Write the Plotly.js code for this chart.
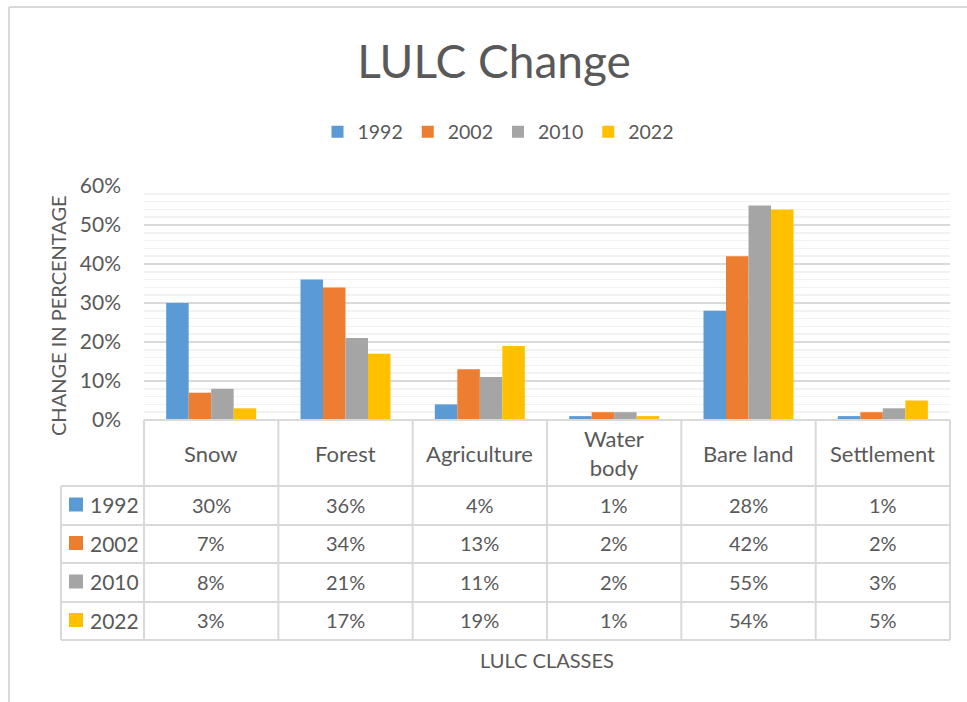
<!DOCTYPE html>
<html>
<head>
<meta charset="utf-8">
<script src="https://cdn.plot.ly/plotly-3.0.1.min.js"></script>
<style>html,body{margin:0;padding:0;background:#fff;}#chart{width:967px;height:702px;}</style>
</head>
<body>
<div id="chart"></div>
<script>
// ---- data ----
const categories = ['Snow', 'Forest', 'Agriculture', 'Water body', 'Bare land', 'Settlement'];
const headerLabels = ['Snow', 'Forest', 'Agriculture', 'Water<br>body', 'Bare land', 'Settlement'];
const years = ['1992', '2002', '2010', '2022'];
const v1992 = [0.30, 0.36, 0.04, 0.01, 0.28, 0.01];
const v2002 = [0.07, 0.34, 0.13, 0.02, 0.42, 0.02];
const v2010 = [0.08, 0.21, 0.11, 0.02, 0.55, 0.03];
const v2022 = [0.03, 0.17, 0.19, 0.01, 0.54, 0.05];
const seriesValues = [v1992, v2002, v2010, v2022];
const colors = ['#5B9BD5', '#ED7D31', '#A5A5A5', '#FFC000'];
const chartTitle = 'LULC Change';
const yTitle = 'CHANGE IN PERCENTAGE';
const xTitle = 'LULC CLASSES';

// ---- geometry (pixels) ----
const W = 967, H = 702;
const px = x => x / W;
const py = y => 1 - y / H;
const plotL = 144, plotR = 950, plotT = 186, plotB = 420;
const tableL = 61, headerB = 486;
const rowEdges = [486, 525, 563, 602, 640];
const colW = (plotR - plotL) / categories.length;
const FONT = 'Lato, "Open Sans", "DejaVu Sans", sans-serif';
const TXT = '#595959';
const LINE = '#d9d9d9';

const traces = years.map((yr, i) => ({
  type: 'bar',
  name: yr,
  x: categories,
  y: seriesValues[i],
  marker: {color: colors[i], line: {width: 0}},
  hoverinfo: 'x+y+name'
}));

const shapes = [];
const annotations = [];
const line = (x0, y0, x1, y1, color, w) => shapes.push({
  type: 'line', xref: 'paper', yref: 'paper',
  x0: px(x0), y0: py(y0), x1: px(x1), y1: py(y1),
  line: {color: color || LINE, width: w || 2}
});

// chart area border (top & left)
line(9, 7, W, 7, '#d9d9d9', 2);
line(9, 7, 9, H, '#d9d9d9', 2);

// table grid
line(plotL, plotB, plotR, plotB);
rowEdges.forEach(y => line(tableL, y, plotR, y));
line(tableL, rowEdges[0], tableL, rowEdges[rowEdges.length - 1]);
for (let c = 0; c <= categories.length; c++) {
  const x = plotL + c * colW;
  line(x, plotB, x, rowEdges[rowEdges.length - 1]);
}

// header labels
headerLabels.forEach((lab, c) => annotations.push({
  xref: 'paper', yref: 'paper', x: px(plotL + (c + 0.5) * colW), y: py((plotB + headerB) / 2),
  xanchor: 'center', yanchor: 'middle', showarrow: false, text: lab,
  font: {family: FONT, size: 22, color: TXT}
}));

// rows
years.forEach((yr, r) => {
  const yc = (rowEdges[r] + rowEdges[r + 1]) / 2 - 1;
  shapes.push({type: 'rect', xref: 'paper', yref: 'paper',
    x0: px(69), x1: px(83), y0: py(yc - 7), y1: py(yc + 7),
    fillcolor: colors[r], line: {width: 0}});
  annotations.push({xref: 'paper', yref: 'paper', x: px(88), y: py(yc),
    xanchor: 'left', yanchor: 'middle', showarrow: false, text: yr,
    font: {family: FONT, size: 21, color: TXT}});
  seriesValues[r].forEach((v, c) => annotations.push({
    xref: 'paper', yref: 'paper', x: px(plotL + (c + 0.5) * colW), y: py(yc),
    xanchor: 'center', yanchor: 'middle', showarrow: false,
    text: Math.round(v * 100) + '%',
    font: {family: FONT, size: 20, color: TXT}
  }));
});

// axis titles
annotations.push({xref: 'paper', yref: 'paper', x: px(58), y: py(316),
  xanchor: 'center', yanchor: 'middle', showarrow: false, textangle: -90,
  text: yTitle, font: {family: FONT, size: 20, color: TXT}});
annotations.push({xref: 'paper', yref: 'paper', x: px(547), y: py(660),
  xanchor: 'center', yanchor: 'middle', showarrow: false,
  text: xTitle, font: {family: FONT, size: 20, color: TXT}});

const layout = {
  width: W, height: H,
  margin: {l: 0, r: 0, t: 0, b: 0},
  paper_bgcolor: '#fff', plot_bgcolor: '#fff',
  font: {family: FONT, color: TXT},
  title: {text: chartTitle, x: px(494), xanchor: 'center', y: py(62), yanchor: 'middle',
    font: {family: FONT, size: 46, color: TXT}},
  barmode: 'group', bargap: 0.33, bargroupgap: 0,
  showlegend: true,
  legend: {orientation: 'h', x: px(498), xanchor: 'center', y: py(132), yanchor: 'middle',
    font: {family: FONT, size: 19.5, color: TXT}, itemwidth: 30, traceorder: 'normal'},
  xaxis: {domain: [px(plotL), px(plotR)], showticklabels: false, showgrid: false,
    zeroline: false, showline: false, ticks: '', fixedrange: true},
  yaxis: {domain: [py(plotB), py(plotT)], range: [0, 0.6], dtick: 0.1, tickformat: '.0%',
    showgrid: true, gridcolor: '#d9d9d9', gridwidth: 1.5, zeroline: false, showline: false,
    ticks: '', ticklabelstandoff: 22, tickfont: {family: FONT, size: 21, color: TXT},
    minor: {dtick: 0.02, showgrid: true, gridcolor: '#f2f2f2', gridwidth: 1.5},
    fixedrange: true},
  shapes: shapes,
  annotations: annotations
};

Plotly.newPlot('chart', traces, layout, {displayModeBar: false, staticPlot: true});
</script>
</body>
</html>
